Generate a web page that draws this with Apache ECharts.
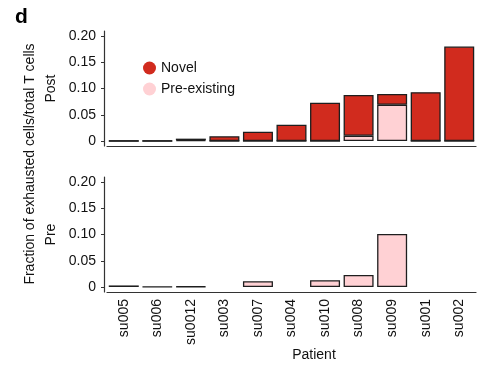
<!DOCTYPE html>
<html><head><meta charset="utf-8">
<script src="https://cdn.jsdelivr.net/npm/echarts@6/dist/echarts.min.js"></script>
<style>html,body{margin:0;padding:0;background:#fff}#c{width:498px;height:365px}</style>
</head><body><div id="c"></div>
<script>
const patients = ['su005','su006','su0012','su003','su007','su004','su010','su008','su009','su001','su002'];
const postNovel = [0.0006, 0.0006, 0.003, 0.009, 0.0177, 0.031, 0.073, 0.0775, 0.0205, 0.093, 0.180];
const postPre   = [0, 0, 0.0015, 0, 0, 0, 0, 0.010, 0.069, 0, 0];
const preValues = [0.003, 0.0005, 0.001, null, 0.011, null, 0.013, 0.023, 0.101, null, null];
const yTicks = [0, 0.05, 0.10, 0.15, 0.20];

const NOVEL = '#D12B1E', PRE = '#FFD1D4';
const FONT = 'Liberation Sans, Arial, sans-serif';
const clean = arr => arr.map(v => v == null ? '-' : v);

const axisLine = {show: true, onZero: false, lineStyle: {color: '#333', width: 1.2}};
const yAxisCommon = {
  type: 'value', min: -0.0095, max: 0.2095, offset: 3,
  axisLine, splitLine: {show: false},
  axisTick: {show: true, length: 3, customValues: yTicks, lineStyle: {color: '#333'}},
  axisLabel: {customValues: yTicks, margin: 8, fontSize: 14, color: '#111', fontFamily: FONT,
    formatter: v => v === 0 ? '0' : v.toFixed(2)},
  nameLocation: 'middle', nameRotate: 90, nameGap: 36,
  nameTextStyle: {fontSize: 14, color: '#111', fontFamily: FONT}
};
const xAxisCommon = {
  type: 'category', data: patients, boundaryGap: true,
  axisLine, splitLine: {show: false}, axisTick: {show: false}
};
const barStyle = c => ({color: c, borderColor: '#1e1e1e', borderWidth: 1.3});

const chart = echarts.init(document.getElementById('c'), null, {renderer: 'canvas'});
chart.setOption({
  animation: false,
  textStyle: {fontFamily: FONT},
  grid: [
    {left: 107, width: 369, top: 31, height: 115},
    {left: 107, width: 369, top: 177, height: 115}
  ],
  xAxis: [
    Object.assign({}, xAxisCommon, {gridIndex: 0, axisLabel: {show: false}}),
    Object.assign({}, xAxisCommon, {gridIndex: 1,
      axisLabel: {rotate: 90, margin: 7, fontSize: 14, color: '#111', fontFamily: FONT}})
  ],
  yAxis: [
    Object.assign({}, yAxisCommon, {gridIndex: 0, name: 'Post'}),
    Object.assign({}, yAxisCommon, {gridIndex: 1, name: 'Pre'})
  ],
  legend: {
    orient: 'vertical', left: 138, top: 56, itemWidth: 13, itemHeight: 13, itemGap: 7,
    icon: 'circle',
    data: [{name: 'Novel', itemStyle: {color: NOVEL, borderWidth: 0}},
           {name: 'Pre-existing', itemStyle: {color: PRE, borderWidth: 0}}],
    textStyle: {fontSize: 14, color: '#111', fontFamily: FONT}
  },
  graphic: [
    {type: 'text', left: 15, top: 7, style: {text: 'd', font: 'bold 21px ' + FONT, fill: '#000'}},
    {type: 'text', x: 30, y: 164, rotation: Math.PI / 2,
      style: {text: 'Fraction of exhausted cells/total T cells', font: '14px ' + FONT, fill: '#111',
        textAlign: 'center', textVerticalAlign: 'middle'}},
    {type: 'text', x: 314, y: 355,
      style: {text: 'Patient', font: '14px ' + FONT, fill: '#111',
        textAlign: 'center', textVerticalAlign: 'middle'}}
  ],
  series: [
    {name: 'Pre-existing', type: 'bar', stack: 'post', xAxisIndex: 0, yAxisIndex: 0, barWidth: 30,
      itemStyle: barStyle(PRE), data: postPre},
    {name: 'Novel', type: 'bar', stack: 'post', xAxisIndex: 0, yAxisIndex: 0, barWidth: 30,
      itemStyle: barStyle(NOVEL), data: postNovel},
    {name: 'Pre-existing', type: 'bar', xAxisIndex: 1, yAxisIndex: 1, barWidth: 30,
      itemStyle: barStyle(PRE), data: clean(preValues)}
  ]
});
</script></body></html>
